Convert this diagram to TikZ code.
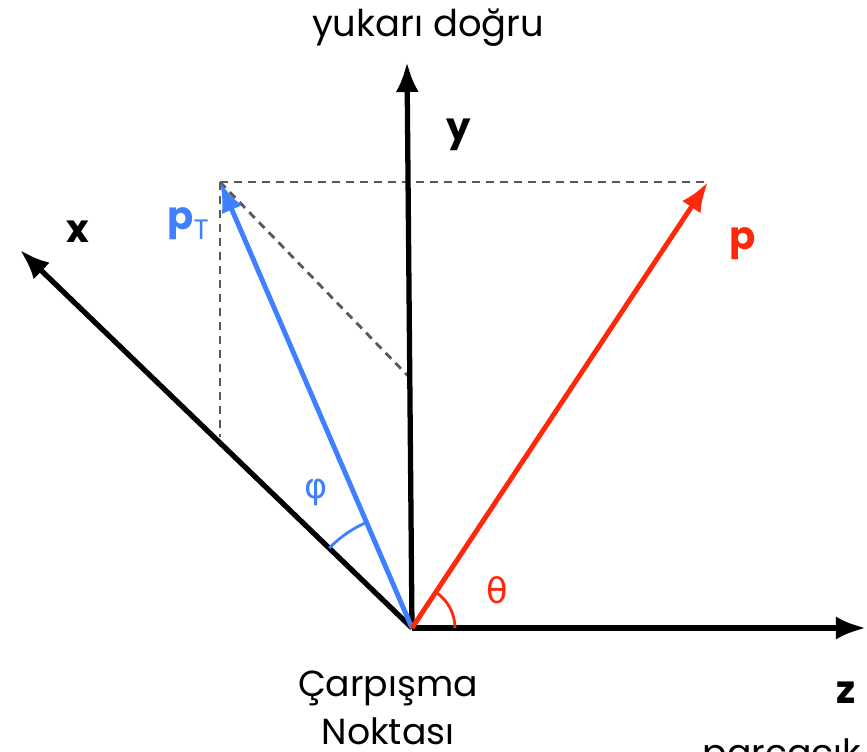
\documentclass[tikz,border=0pt]{standalone}
\usepackage{fontspec}
\setmainfont{Poppins}
\newfontfamily\greekfont{DejaVu Sans}
\usetikzlibrary{arrows.meta,angles}
\definecolor{ptblue}{RGB}{64,128,255}
\definecolor{pred}{RGB}{255,40,10}
\tikzset{
  axis/.style={line width=1.5pt,-{Latex[length=3mm,width=2.3mm]}},
  vec/.style={line width=1.4pt,-{Latex[length=3mm,width=2.2mm]}},
  proj/.style={gray!70!black,line width=0.8pt,dash pattern=on 0.8mm off 0.6mm},
  lbl/.style={font=\fontsize{11}{13}\selectfont\bfseries}
}
\begin{document}
\begin{tikzpicture}[x=0.1mm,y=-0.1mm]
        \useasboundingbox (0,0) rectangle (867,752);
        % Eksenler
        \coordinate (O) at (412,628);
        \coordinate (zend) at (866,628);
        \coordinate (yend) at (407,62);
        \coordinate (xend) at (20,250);
        \coordinate (ptend) at (220,182);
        \coordinate (pend) at (708,182);
        \coordinate (yfoot) at (408,376);
        \coordinate (xfoot) at (220,437);
        
        % Izdusumler
        \draw[proj] (ptend) -- (pend);
        \draw[proj] (ptend) -- (xfoot);
        \draw[proj] (ptend) -- (yfoot);
        
        \draw[axis] (O) -- (zend);
        \draw[axis] (O) -- (yend);
        \draw[axis] (O) -- (xend);
        
        % Vektorler
        \draw[vec,ptblue] (O) -- (ptend);
        \draw[vec,pred] (O) -- (pend);
        
        % Acilar
        \pic[draw=ptblue,line width=0.8pt,angle radius=11.5mm] {angle=ptend--O--xend};
        \pic[draw=pred,line width=0.8pt,angle radius=4.3mm] {angle=zend--O--pend};
        
        % Etiketler
        \node[lbl] (xlbl) at (78,232) {x};
        \node[lbl] (ylbl) at (459,135) {y};
        \node[lbl] (zlbl) at (846,693) {z};
        \node[lbl,pred] (plbl) at (743,244) {p};
        \node[ptblue] (ptlbl) at (188,224) {\fontsize{11}{13}\selectfont\bfseries p\raisebox{-0.45ex}{\fontsize{8}{9}\selectfont\mdseries T}};
        \node[ptblue,font=\greekfont\fontsize{10}{12}\selectfont] (philbl) at (316,492) {φ};
        \node[pred,font=\greekfont\fontsize{10}{12}\selectfont] (thetalbl) at (497,590) {θ};
        \node[font=\fontsize{10.5}{12}\selectfont] (uplbl) at (428,28) {yukarı doğru};
        \node[font=\fontsize{10.3}{13.5}\selectfont,align=center] (cplbl) at (388,708) {Çarpışma\\Noktası};
        \node[font=\fontsize{10.3}{12}\selectfont,anchor=base west,inner sep=0pt] (beamlbl) at (702,765) {parçacık};
    \end{tikzpicture}
\end{document}
